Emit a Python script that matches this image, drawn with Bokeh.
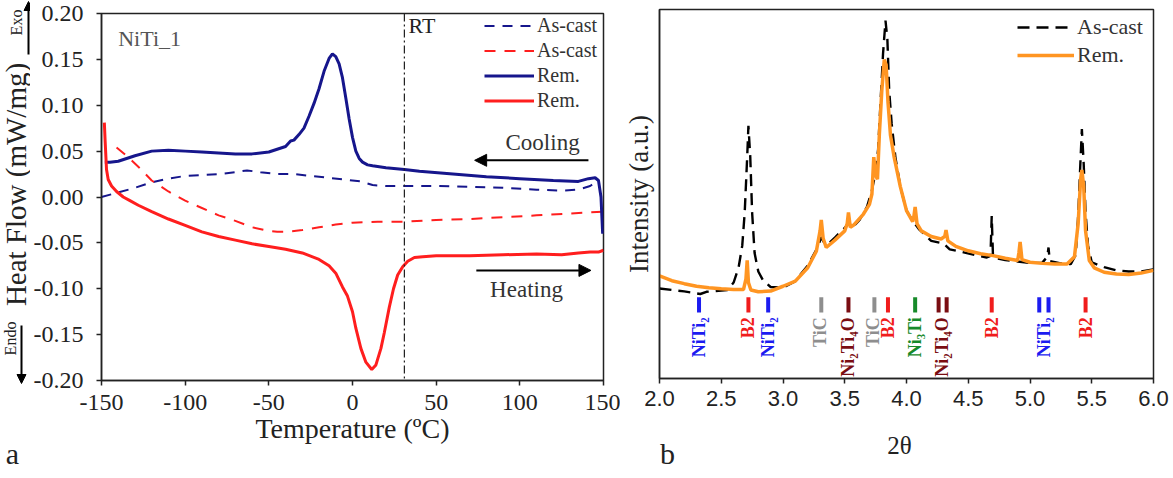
import math
from bokeh.plotting import figure
from bokeh.layouts import row, column
from bokeh.models import (Range1d, FixedTicker, Label, Arrow, NormalHead, Span,
                          Legend, LegendItem, ColumnDataSource, PrintfTickFormatter)
from bokeh.core.properties import value
from bokeh.embed import file_html
from bokeh.resources import INLINE

# ---------------- Panel a : DSC data ----------------
temp_ticks = [-150, -100, -50, 0, 50, 100, 150]
hf_ticks = [-0.20, -0.15, -0.10, -0.05, 0.00, 0.05, 0.10, 0.15, 0.20]
rt_temp = 31

blue_ac_T = [-150, -140, -130, -120, -110, -100, -90, -80, -70, -63, -55, -45, -35, -25, -15,
             -5, 5, 12, 20, 31, 50, 70, 90, 110, 125, 135, 142, 147]
blue_ac_HF = [0.000, 0.005, 0.010, 0.016, 0.020, 0.023, 0.024, 0.025, 0.027, 0.029, 0.027, 0.025,
              0.025, 0.023, 0.021, 0.019, 0.017, 0.013, 0.012, 0.012, 0.012, 0.011, 0.010, 0.008,
              0.007, 0.008, 0.012, 0.018]

red_ac_T = [-141, -135, -128, -120, -110, -100, -90, -80, -70, -60, -50, -45, -40, -30, -20, -10,
            0, 15, 31, 50, 70, 90, 110, 130, 150]
red_ac_HF = [0.054, 0.045, 0.033, 0.018, 0.006, -0.004, -0.012, -0.020, -0.026, -0.033, -0.037,
             -0.038, -0.038, -0.036, -0.033, -0.030, -0.028, -0.027, -0.027, -0.025, -0.024,
             -0.022, -0.020, -0.018, -0.016]

blue_rem_T = [-148, -145, -140, -130, -120, -110, -100, -90, -80, -70, -60, -50, -45, -40, -37, -35,
              -32, -29, -26, -23, -20, -17, -14, -12, -10, -8, -6, -4, -2, 0, 2, 4, 6, 9, 12, 20,
              31, 40, 60, 80, 100, 120, 135, 141, 145, 147, 148.5, 149.5]
blue_rem_HF = [0.038, 0.038, 0.039, 0.045, 0.050, 0.051, 0.050, 0.049, 0.048, 0.047, 0.047, 0.049,
               0.052, 0.055, 0.061, 0.062, 0.068, 0.075, 0.088, 0.102, 0.118, 0.137, 0.151, 0.156,
               0.153, 0.145, 0.130, 0.108, 0.085, 0.065, 0.050, 0.042, 0.038, 0.035, 0.034, 0.032,
               0.030, 0.028, 0.025, 0.022, 0.020, 0.018, 0.017, 0.020, 0.021, 0.018, 0.000, -0.040]

red_rem_T = [-148.3, -147.8, -147, -146, -144, -141, -137, -133, -128, -120, -110, -100, -90, -80,
             -70, -60, -50, -40, -30, -20, -14, -10, -6, -3, 0, 2, 5, 8, 11.5, 14, 17, 19, 22,
             24.5, 27, 30, 33, 37, 42, 50, 70, 90, 110, 125, 135, 142, 147, 150]
red_rem_HF = [0.081, 0.060, 0.030, 0.019, 0.012, 0.006, 0.000, -0.004, -0.009, -0.016, -0.024,
              -0.031, -0.038, -0.043, -0.047, -0.051, -0.054, -0.057, -0.061, -0.068, -0.075,
              -0.083, -0.098, -0.108, -0.125, -0.143, -0.165, -0.180, -0.188, -0.183, -0.165,
              -0.148, -0.120, -0.100, -0.085, -0.076, -0.070, -0.066, -0.065, -0.064, -0.064,
              -0.063, -0.062, -0.063, -0.061, -0.060, -0.060, -0.058]

# ---------------- Panel b : XRD data ----------------
tt_ticks = [2.0, 2.5, 3.0, 3.5, 4.0, 4.5, 5.0, 5.5, 6.0]

ascast_2t = [2.00, 2.10, 2.20, 2.28, 2.33, 2.38, 2.45, 2.55, 2.60, 2.64, 2.67, 2.69, 2.71, 2.72,
             2.735, 2.75, 2.77, 2.80, 2.84, 2.90, 3.00, 3.10, 3.20, 3.28, 3.31, 3.33, 3.36, 3.42,
             3.50, 3.535, 3.56, 3.62, 3.68, 3.72, 3.75, 3.77, 3.79, 3.81, 3.83, 3.845, 3.86, 3.88,
             3.91, 3.95, 4.00, 4.05, 4.10, 4.20, 4.30, 4.35, 4.45, 4.55, 4.65, 4.68, 4.69, 4.70,
             4.72, 4.80, 4.90, 5.00, 5.10, 5.14, 5.15, 5.16, 5.25, 5.33, 5.37, 5.39, 5.41, 5.42,
             5.435, 5.45, 5.47, 5.50, 5.55, 5.60, 5.70, 5.80, 5.90, 6.00]
ascast_int = [24.4, 24.0, 23.6, 23.2, 22.9, 23.5, 23.7, 24.0, 26.0, 30.0, 36.0, 45.0, 60.0, 68.5,
              60.0, 45.0, 34.0, 29.0, 26.5, 24.8, 24.6, 26.4, 30.6, 35.5, 38.3, 37.0, 36.3, 38.2,
              40.8, 42.3, 40.8, 43.0, 46.5, 51.0, 56.0, 62.0, 75.0, 88.0, 97.0, 92.0, 78.0, 69.0,
              60.0, 52.0, 45.5, 42.7, 40.5, 37.3, 36.6, 35.0, 34.3, 33.5, 32.8, 33.2, 44.0, 33.5,
              32.6, 32.1, 31.7, 31.3, 31.4, 33.0, 35.5, 31.8, 31.2, 31.0, 33.5, 44.0, 60.0, 67.6,
              58.0, 45.0, 36.0, 31.5, 30.8, 30.2, 29.3, 29.0, 29.0, 29.6]

rem_2t = [2.00, 2.10, 2.20, 2.30, 2.40, 2.50, 2.60, 2.68, 2.70, 2.71, 2.72, 2.74, 2.80, 2.90,
          3.00, 3.10, 3.20, 3.27, 3.30, 3.31, 3.325, 3.35, 3.42, 3.50, 3.52, 3.53, 3.545, 3.57,
          3.65, 3.70, 3.72, 3.735, 3.75, 3.765, 3.78, 3.80, 3.82, 3.835, 3.85, 3.87, 3.90, 3.95,
          4.00, 4.05, 4.06, 4.07, 4.085, 4.12, 4.20, 4.28, 4.31, 4.32, 4.335, 4.40, 4.50, 4.60,
          4.70, 4.80, 4.90, 4.91, 4.92, 4.935, 5.00, 5.10, 5.20, 5.30, 5.36, 5.39, 5.41, 5.42,
          5.435, 5.45, 5.48, 5.52, 5.60, 5.70, 5.80, 5.90, 6.00]
rem_int = [27.8, 26.5, 25.7, 25.0, 24.6, 24.3, 24.1, 24.1, 27.0, 32.0, 26.0, 24.0, 23.5, 23.7,
           25.0, 26.4, 30.0, 34.5, 40.0, 43.0, 38.0, 35.5, 37.5, 40.0, 42.0, 45.0, 41.0, 41.5,
           44.5, 47.2, 50.0, 60.0, 55.0, 54.0, 66.0, 78.0, 86.4, 85.0, 75.0, 66.0, 60.0, 52.0,
           45.5, 42.5, 44.0, 46.5, 42.0, 40.0, 38.5, 37.8, 38.5, 40.2, 37.3, 35.8, 34.6, 33.8,
           33.3, 32.6, 32.0, 34.0, 37.0, 32.2, 31.5, 31.2, 31.0, 31.0, 33.0, 42.0, 54.0, 56.5,
           52.0, 40.0, 32.0, 30.0, 28.8, 28.3, 28.2, 28.6, 29.3]

phase_bar_pos = [2.32, 2.72, 2.88, 3.31, 3.53, 3.74, 3.85, 4.07, 4.26, 4.325, 4.69, 5.075, 5.15, 5.45]
phase_bar_phase = ["NiTi2", "B2", "NiTi2", "TiC", "Ni2Ti4O", "TiC", "B2", "Ni3Ti", "Ni2Ti4O",
                   "Ni2Ti4O", "B2", "NiTi2", "NiTi2", "B2"]
phase_label_pos = [2.32, 2.72, 2.88, 3.30, 3.53, 3.73, 3.85, 4.07, 4.29, 4.69, 5.11, 5.45]
phase_label_text = ["NiTi₂", "B2", "NiTi₂", "TiC", "Ni₂Ti₄O", "TiC", "B2", "Ni₃Ti", "Ni₂Ti₄O",
                    "B2", "NiTi₂", "B2"]
phase_label_phase = ["NiTi2", "B2", "NiTi2", "TiC", "Ni2Ti4O", "TiC", "B2", "Ni3Ti", "Ni2Ti4O",
                     "B2", "NiTi2", "B2"]
phase_colors = {"NiTi2": "#1c1cf0", "B2": "#f01c1c", "TiC": "#8e8e8e",
                "Ni2Ti4O": "#7a0d12", "Ni3Ti": "#178a2a"}

SERIF = "Liberation Serif"
SANS = "Liberation Sans"
NAVY = "#16168c"
RED = "#ff1e1e"
INK = "#222222"


def strip(width, height, xr, yr, bl=0, br=0):
    """A bare figure used only to hold free texts; data units are page pixels."""
    s = figure(width=width, height=height, x_range=Range1d(*xr), y_range=Range1d(*yr),
               output_backend="svg", toolbar_location=None, x_axis_type=None,
               y_axis_type=None, min_border=0, min_border_left=bl, min_border_right=br,
               min_border_top=0, min_border_bottom=0)
    s.grid.visible = False
    s.outline_line_color = None
    return s


def stext(s, x, y, text, size, angle=0.0, color=INK, align="center"):
    s.text(x=[x], y=[y], text=[text], text_font=value(SERIF), text_font_size=size,
           text_color=color, text_align=align, text_baseline="middle", angle=angle)


# =============== left strip (y title, Exo / Endo, "a") ===============
s1 = strip(30, 478, (0, 30), (478, 0))
stext(s1, 15, 184, "Heat Flow (mW/mg)", "29px", angle=math.pi / 2)
stext(s1, 16, 22, "Exo", "16px", angle=math.pi / 2)
stext(s1, 10, 338, "Endo", "16px", angle=math.pi / 2)
s1.add_layout(Arrow(end=NormalHead(size=9, fill_color="black", line_color="black"),
                    x_start=28, y_start=54, x_end=28, y_end=1,
                    line_color="black", line_width=2))
s1.add_layout(Arrow(end=NormalHead(size=9, fill_color="black", line_color="black"),
                    x_start=21, y_start=325, x_end=21, y_end=383,
                    line_color="black", line_width=2))
stext(s1, 12, 453, "a", "30px")

# =============== Figure a ===============
p1 = figure(width=590, height=478, x_range=Range1d(-150, 150), y_range=Range1d(-0.2, 0.2),
            output_backend="svg", toolbar_location=None,
            min_border_left=70, min_border_right=17, min_border_top=13, min_border_bottom=98)
p1.grid.visible = False
p1.outline_line_color = INK
p1.outline_line_width = 1.5

p1.xaxis.ticker = FixedTicker(ticks=temp_ticks)
p1.xaxis.formatter = PrintfTickFormatter(format="%d")
p1.yaxis.ticker = FixedTicker(ticks=hf_ticks)
p1.yaxis.formatter = PrintfTickFormatter(format="%.2f")
for ax in (p1.xaxis[0], p1.yaxis[0]):
    ax.axis_line_color = INK
    ax.axis_line_width = 1.5
    ax.major_tick_line_color = INK
    ax.major_tick_line_width = 1.5
    ax.major_tick_in = 0
    ax.major_tick_out = 5
    ax.minor_tick_line_color = None
    ax.major_label_text_font = SERIF
    ax.major_label_text_font_size = "24px"
    ax.major_label_text_color = INK
    ax.axis_label_text_font = SERIF
    ax.axis_label_text_font_style = "normal"
    ax.axis_label_text_color = INK
p1.xaxis.axis_label = "Temperature (ºC)"
p1.xaxis.axis_label_text_font_size = "28px"
p1.xaxis.major_label_standoff = 9
p1.xaxis.axis_label_standoff = 0
p1.yaxis.major_label_standoff = 13

r_bac = p1.line(blue_ac_T, blue_ac_HF, line_color=NAVY, line_width=2, line_dash="10 8")
r_rac = p1.line(red_ac_T, red_ac_HF, line_color=RED, line_width=2, line_dash="11 9")
r_brem = p1.line(blue_rem_T, blue_rem_HF, line_color=NAVY, line_width=3)
r_rrem = p1.line(red_rem_T, red_rem_HF, line_color=RED, line_width=3)

p1.add_layout(Span(location=rt_temp, dimension="height", line_color=INK,
                   line_width=1.2, line_dash="8 3 2 3"))

leg1 = Legend(items=[LegendItem(label="As-cast", renderers=[r_bac]),
                     LegendItem(label="As-cast", renderers=[r_rac]),
                     LegendItem(label="Rem.", renderers=[r_brem]),
                     LegendItem(label="Rem.", renderers=[r_rrem])],
              location=(383, 267), glyph_width=50, glyph_height=25, label_height=25,
              spacing=0, padding=0, margin=0, border_line_color=None,
              background_fill_alpha=0, label_text_font=SERIF, label_text_font_size="20px",
              label_standoff=3, label_text_color="#333333")
p1.add_layout(leg1)


def lab(p, x, y, text, size, color=INK, align="center"):
    p.add_layout(Label(x=x, y=y, text=text, text_font=SERIF, text_font_size=size,
                       text_color=color, text_align=align, text_baseline="middle"))


lab(p1, -140, 0.173, "NiTi_1", "22px", color="#555555", align="left")
lab(p1, 33.5, 0.187, "RT", "22px", align="left")
lab(p1, 113.6, 0.059, "Cooling", "23px", color="#333333")
lab(p1, 104, -0.101, "Heating", "23px", color="#333333")
p1.add_layout(Arrow(end=NormalHead(size=12, fill_color="black", line_color="black"),
                    x_start=141, y_start=0.040, x_end=73, y_end=0.040,
                    line_color="black", line_width=2))
p1.add_layout(Arrow(end=NormalHead(size=12, fill_color="black", line_color="black"),
                    x_start=74, y_start=-0.080, x_end=142.5, y_end=-0.080,
                    line_color="black", line_width=2))

# =============== Figure b ===============
p2 = figure(width=553, height=420, x_range=Range1d(2, 6), y_range=Range1d(0, 100),
            output_backend="svg", toolbar_location=None,
            min_border_left=37, min_border_right=20, min_border_top=9, min_border_bottom=42)
p2.grid.visible = False
p2.outline_line_color = INK
p2.outline_line_width = 1.5
p2.xaxis.ticker = FixedTicker(ticks=tt_ticks)
p2.xaxis.formatter = PrintfTickFormatter(format="%.1f")
p2.yaxis.ticker = FixedTicker(ticks=[])
for ax in (p2.xaxis[0], p2.yaxis[0]):
    ax.axis_line_color = INK
    ax.axis_line_width = 1.5
    ax.major_tick_line_color = INK
    ax.major_tick_line_width = 1.5
    ax.major_tick_in = 0
    ax.minor_tick_line_color = None
    ax.axis_label_text_font = SERIF
    ax.axis_label_text_font_style = "normal"
    ax.axis_label_text_color = INK
p2.xaxis.major_tick_out = 5
p2.yaxis.major_tick_out = 0
p2.xaxis.major_label_text_font = SANS
p2.xaxis.major_label_text_font_size = "22px"
p2.xaxis.major_label_text_color = INK
p2.xaxis.major_label_standoff = 7
p2.yaxis.axis_label = "Intensity (a.u.)"
p2.yaxis.axis_label_text_font_size = "27px"
p2.yaxis.axis_label_standoff = 6

r_ac = p2.line(ascast_2t, ascast_int, line_color="black", line_width=2.4, line_dash="12 7")
r_rem = p2.line(rem_2t, rem_int, line_color="#ff9522", line_width=3.5)

bar_src = ColumnDataSource(dict(x=phase_bar_pos,
                                y0=[17.9] * len(phase_bar_pos), y1=[22.0] * len(phase_bar_pos),
                                c=[phase_colors[k] for k in phase_bar_phase]))
p2.segment(x0="x", y0="y0", x1="x", y1="y1", source=bar_src, line_color="c", line_width=4)

txt_src = ColumnDataSource(dict(x=phase_label_pos, y=[16.6] * len(phase_label_pos),
                                t=phase_label_text,
                                c=[phase_colors[k] for k in phase_label_phase]))
p2.text(x="x", y="y", text="t", source=txt_src, text_color="c", angle=math.pi / 2,
        text_align="right", text_baseline="middle", text_font=value(SERIF),
        text_font_size="18px", text_font_style="bold")

leg2 = Legend(items=[LegendItem(label="As-cast", renderers=[r_ac]),
                     LegendItem(label="Rem.", renderers=[r_rem])],
              location=(358, 309), glyph_width=57, glyph_height=28, label_height=28,
              spacing=0, padding=0, margin=0, border_line_color=None,
              background_fill_alpha=0, label_text_font=SERIF, label_text_font_size="22px",
              label_standoff=3, label_text_color="#333333")
p2.add_layout(leg2)

# bottom strip under figure b (same side borders as b, so its frame is b's frame width)
s2 = strip(553, 58, (657, 1153), (478, 420), bl=37, br=20)
stext(s2, 898, 445, "2θ", "25px")
stext(s2, 657.5, 453, "b", "30px", align="left")

layout = row(column(s1), p1, column(p2, s2, spacing=0), spacing=0)
open("out.html", "w").write(file_html(layout, INLINE))
